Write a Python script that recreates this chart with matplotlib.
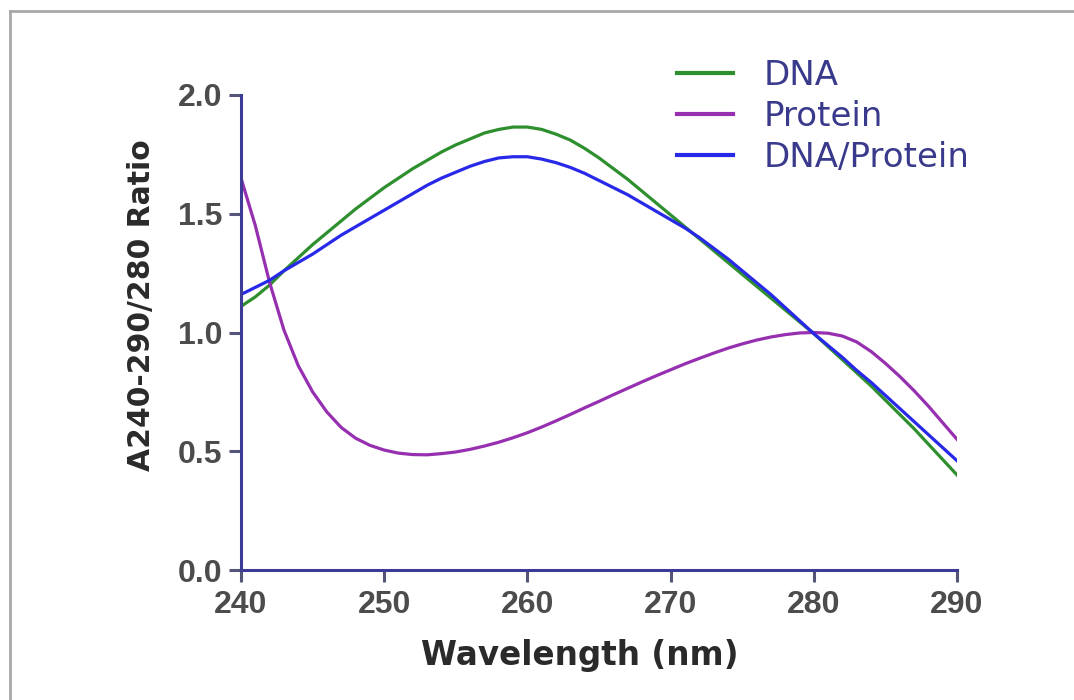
import matplotlib.pyplot as plt
from matplotlib.lines import Line2D

# wavelength (nm) and ratio readings, one per nm
wavelength = list(range(240, 291))
dna = [1.11, 1.15, 1.20, 1.26, 1.315, 1.37, 1.42, 1.47, 1.52, 1.565,
       1.61, 1.65, 1.69, 1.725, 1.76, 1.79, 1.815, 1.84, 1.855, 1.865,
       1.865, 1.855, 1.835, 1.81, 1.775, 1.735, 1.69, 1.645, 1.595, 1.545,
       1.495, 1.445, 1.395, 1.345, 1.295, 1.245, 1.195, 1.145, 1.095, 1.045,
       0.995, 0.94, 0.885, 0.83, 0.775, 0.715, 0.655, 0.595, 0.53, 0.465,
       0.40]
protein = [1.65, 1.45, 1.21, 1.01, 0.86, 0.75, 0.665, 0.60, 0.555, 0.525,
           0.505, 0.492, 0.486, 0.485, 0.49, 0.497, 0.508, 0.522, 0.538, 0.557,
           0.578, 0.602, 0.628, 0.655, 0.683, 0.71, 0.738, 0.765, 0.792, 0.818,
           0.843, 0.868, 0.891, 0.913, 0.934, 0.952, 0.968, 0.981, 0.991, 0.998,
           1.00, 0.997, 0.985, 0.96, 0.92, 0.87, 0.815, 0.755, 0.69, 0.62,
           0.55]
dna_protein = [1.16, 1.19, 1.22, 1.26, 1.295, 1.33, 1.37, 1.41, 1.445, 1.48,
               1.515, 1.55, 1.585, 1.62, 1.65, 1.675, 1.70, 1.72, 1.735, 1.74,
               1.74, 1.73, 1.715, 1.695, 1.67, 1.64, 1.61, 1.58, 1.545, 1.51,
               1.475, 1.44, 1.40, 1.355, 1.31, 1.26, 1.21, 1.16, 1.105, 1.05,
               0.995, 0.945, 0.895, 0.84, 0.79, 0.735, 0.68, 0.625, 0.57, 0.515,
               0.46]

series_names = ['DNA', 'Protein', 'DNA/Protein']
series_colors = ['#2e8f2e', '#962fb0', '#2828e8']
x_ticks = [240, 250, 260, 270, 280, 290]
y_ticks = [0.0, 0.5, 1.0, 1.5, 2.0]

plt.rcParams['font.family'] = ['Liberation Sans', 'DejaVu Sans']

fig = plt.figure(figsize=(10.74, 7), dpi=100)
ax = fig.add_axes([0.2244, 0.1857, 0.6667, 0.6786])

for vals, name, col in zip([dna, protein, dna_protein], series_names, series_colors):
    ax.plot(wavelength, vals, color=col, lw=2.3, label=name)

ax.set_xlim(240, 290)
ax.set_ylim(0, 2.0)
ax.set_xticks(x_ticks)
ax.set_yticks(y_ticks)
ax.set_yticklabels([f'{v:.1f}' for v in y_ticks])

spine_col = '#3c3c96'
for s in ['top', 'right']:
    ax.spines[s].set_visible(False)
for s in ['left', 'bottom']:
    ax.spines[s].set_color(spine_col)
    ax.spines[s].set_linewidth(2.2)

ax.tick_params(axis='both', direction='out', length=8.5, width=2.2, color='#55557a',
               labelsize=23, labelcolor='#4c4c4c')
ax.tick_params(axis='y', pad=5)
ax.tick_params(axis='x', pad=6)
for lbl in ax.get_xticklabels() + ax.get_yticklabels():
    lbl.set_fontweight('bold')

ax.set_xlabel('Wavelength (nm)', fontsize=23.5, fontweight='bold', color='#2a2a2a',
              family='DejaVu Sans')
ax.xaxis.set_label_coords(0.473, -0.145)
ax.set_ylabel('A240-290/280 Ratio', fontsize=21.5, fontweight='bold', color='#2a2a2a',
              family='DejaVu Sans')
ax.yaxis.set_label_coords(-0.119, 0.558)

leg = ax.legend(loc='upper left', bbox_to_anchor=(0.609, 1.076), frameon=False,
                borderpad=0, borderaxespad=0, prop={'family': 'DejaVu Sans', 'size': 24.5},
                handlelength=1.65, handletextpad=0.88, labelspacing=0.24)
for t in leg.get_texts():
    t.set_color('#3a3a8c')
for h in leg.get_lines():
    h.set_linewidth(3)

# grey frame around the picture (top and left edges)
fig.add_artist(Line2D([10 / 1074, 1.0], [1 - 11 / 700, 1 - 11 / 700],
                      transform=fig.transFigure, color='#a8a8a8', lw=2))
fig.add_artist(Line2D([10 / 1074, 10 / 1074], [0.0, 1 - 11 / 700],
                      transform=fig.transFigure, color='#a8a8a8', lw=2))

fig.savefig('out.png', dpi=100)
